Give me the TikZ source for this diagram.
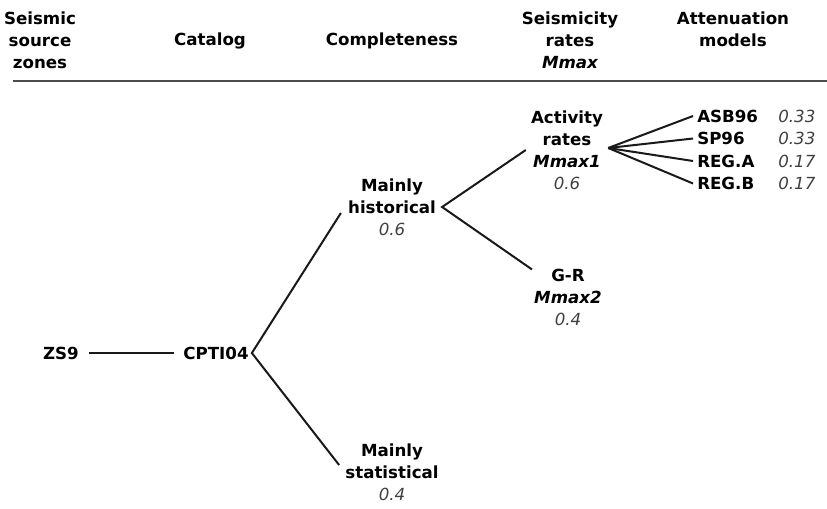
\documentclass[tikz,border=0pt]{standalone}
\usepackage{fontspec}
\setmainfont{DejaVu Sans}
\usetikzlibrary{calc}
\tikzset{
  lbl/.style={inner sep=0pt, align=center, font=\fontsize{12.5}{16.5}\selectfont\bfseries},
  edge/.style={line width=1.5pt, black!90},
}
\newcommand{\pr}[1]{{\mdseries\itshape\color{black!75}#1}}
\newcommand{\mm}[1]{{\itshape #1}}
\begin{document}
\begin{tikzpicture}[x=0.75pt,y=-0.75pt]
\useasboundingbox (0,0) rectangle (827,509);
% header
\node[lbl] (h1) at (40,40) {Seismic\\source\\zones};
\node[lbl] (h2) at (210,41) {Catalog};
\node[lbl] (h3) at (392,41) {Completeness};
\node[lbl] (h4) at (570,40) {Seismicity\\rates\\\mm{Mmax}};
\node[lbl] (h5) at (733,29) {Attenuation\\models};
\draw[line width=1.6pt, black!70] (13,81) -- (827,81);
% tree
\node[lbl] (zs9) at (61,353) {ZS9};
\node[lbl] (cpti) at (216,353) {CPTI04};
\node[lbl] (hist) at (392,207) {Mainly\\historical\\\pr{0.6}};
\node[lbl] (stat) at (392,472) {Mainly\\statistical\\\pr{0.4}};
\node[lbl] (act) at (567,150) {Activity\\rates\\\mm{Mmax1}\\\pr{0.6}};
\node[lbl] (gr) at (568,297) {G-R\\\mm{Mmax2}\\\pr{0.4}};
\node[lbl, anchor=west] (asb) at (697,116) {ASB96};
\node[lbl, anchor=west] (sp) at (697,138.5) {SP96};
\node[lbl, anchor=west] (rega) at (697,161) {REG.A};
\node[lbl, anchor=west] (regb) at (697,183.5) {REG.B};
\node[lbl, anchor=west] (pa) at (778,116) {\pr{0.33}};
\node[lbl, anchor=west] (pb) at (778,138.5) {\pr{0.33}};
\node[lbl, anchor=west] (pc) at (778,161) {\pr{0.17}};
\node[lbl, anchor=west] (pd) at (778,183.5) {\pr{0.17}};
% connectors
\draw[edge] ($(zs9.east)+(10,0)$) -- ($(cpti.west)+(-9,0)$);
\draw[edge] ($(hist.west)+(-7,6)$) -- ($(cpti.east)+(3,0)$) -- ($(stat.west)+(-6,-7)$);
\draw[edge] ($(act.west)+(-5,0)$) -- ($(hist.east)+(6,0)$) -- ($(gr.north west)+(-2,1)$);
\coordinate (fan) at ($(act.east)+(5,-2)$);
\foreach \t in {asb,sp,rega,regb}{
  \draw[edge] (fan) -- ($(\t.west)+(-4,0)$);
}
\end{tikzpicture}
\end{document}
